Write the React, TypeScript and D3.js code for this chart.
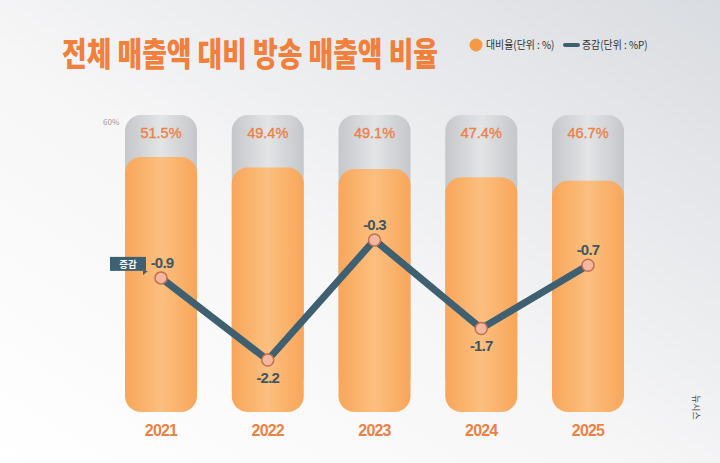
import React from "react";
import * as d3 from "d3";

const years = ["2021", "2022", "2023", "2024", "2025"];
const ratio = [51.5, 49.4, 49.1, 47.4, 46.7];
const change = [-0.9, -2.2, -0.3, -1.7, -0.7];
const labelBelow = [false, true, false, true, false];

const W = 720, H = 463;

export default function App() {
  const x = d3.scalePoint<string>().domain(years).range([161, 588]);
  const y = d3.scaleLinear().domain([0, 60]).range([412, 115]);
  const yl = d3.scaleLinear().domain([-2.5, 0]).range([379, 221]);
  const bw = 72;
  const line = d3.line<number>().x((_, i) => x(years[i])!).y((d) => yl(d));
  const font = "'Noto Sans CJK KR', 'Noto Sans', sans-serif";
  const p0x = x(years[0])!, p0y = yl(change[0]);

  return (
    <svg width={W} height={H} style={{ position: "absolute", left: 0, top: 0, display: "block" }} fontFamily={font}>
      <defs>
        <linearGradient id="bg" x1="0" y1="1" x2="1" y2="0">
          <stop offset="0" stopColor="#ffffff" />
          <stop offset="0.45" stopColor="#f6f6f7" />
          <stop offset="1" stopColor="#d9dce0" />
        </linearGradient>
        <linearGradient id="orange" x1="0" y1="0" x2="1" y2="0">
          <stop offset="0" stopColor="#f8a65a" />
          <stop offset="0.5" stopColor="#fcbf7f" />
          <stop offset="1" stopColor="#f8a65a" />
        </linearGradient>
        <linearGradient id="gray" x1="0" y1="0" x2="1" y2="0">
          <stop offset="0" stopColor="#c5c7ca" />
          <stop offset="0.5" stopColor="#e3e4e6" />
          <stop offset="1" stopColor="#c5c7ca" />
        </linearGradient>
      </defs>
      <rect x={0} y={0} width={W} height={H} fill="url(#bg)" />

      <g transform="translate(62,66) scale(0.865,1.05)">
        <text x={0} y={0} fill="#f0803c" fontSize={31} fontWeight={900}>
          전체 매출액 대비 방송 매출액 비율
        </text>
      </g>

      <circle cx={476} cy={45} r={6.5} fill="#f59a44" />
      <g transform="translate(486,49) scale(0.9,1)">
        <text x={0} y={0} fontSize={11} fill="#333">대비율(단위 : %)</text>
      </g>
      <line x1={565} x2={578} y1={45} y2={45} stroke="#3f5f6e" strokeWidth={4} strokeLinecap="round" />
      <g transform="translate(582,49) scale(0.9,1)">
        <text x={0} y={0} fontSize={11} fill="#333">증감(단위 : %P)</text>
      </g>

      <text x={103} y={125} fontSize={8} fill="#9a9a9a">60%</text>

      {years.map((yr, i) => {
        const cx = x(yr)!;
        return (
          <g key={yr}>
            <rect x={cx - bw / 2} y={y(60)} width={bw} height={y(0) - y(60) - 20} rx={16} fill="url(#gray)" />
            <rect x={cx - bw / 2} y={y(ratio[i])} width={bw} height={y(0) - y(ratio[i])} rx={16} fill="url(#orange)" />
            <text x={cx} y={138} textAnchor="middle" fontSize={14.5} fill="#eb8148" stroke="#eb8148" strokeWidth={0.35} fontFamily="'Liberation Sans', Arial, sans-serif">
              {ratio[i].toFixed(1)}%
            </text>
            <text x={cx} y={436} textAnchor="middle" fontSize={16} fontWeight={700} fill="#e98245" fontFamily="'Liberation Sans', Arial, sans-serif" letterSpacing={-0.8}>
              {yr}
            </text>
          </g>
        );
      })}

      <path d={line(change)!} fill="none" stroke="#3f6070" strokeWidth={7} strokeLinejoin="miter" />
      {change.map((v, i) => {
        const cx = x(years[i])!, cy = yl(v);
        return (
          <g key={i}>
            <circle cx={cx} cy={cy} r={6} fill="#f5b7a0" stroke="#c0704f" strokeWidth={1.5} />
            <text
              x={cx + (i === 0 ? 1 : 0)}
              y={labelBelow[i] ? cy + 23 : cy - 10}
              textAnchor="middle"
              fontSize={15}
              fontWeight={700}
              fill="#3e5662"
              letterSpacing={-0.8}
              fontFamily="'Liberation Sans', Arial, sans-serif"
            >
              {v.toFixed(1)}
            </text>
          </g>
        );
      })}

      <rect x={p0x - 51} y={p0y - 21} width={36} height={14} fill="#3f6070" />
      <path d={`M${p0x - 18},${p0y - 7} L${p0x - 13},${p0y - 7} L${p0x - 18},${p0y - 3} Z`} fill="#3f6070" />
      <text x={p0x - 33} y={p0y - 10} textAnchor="middle" fontSize={9.5} fill="#fff" fontWeight={700}>증감</text>

      <text transform="translate(693,395) rotate(90)" fontSize={9} fill="#444">뉴시스</text>
    </svg>
  );
}
